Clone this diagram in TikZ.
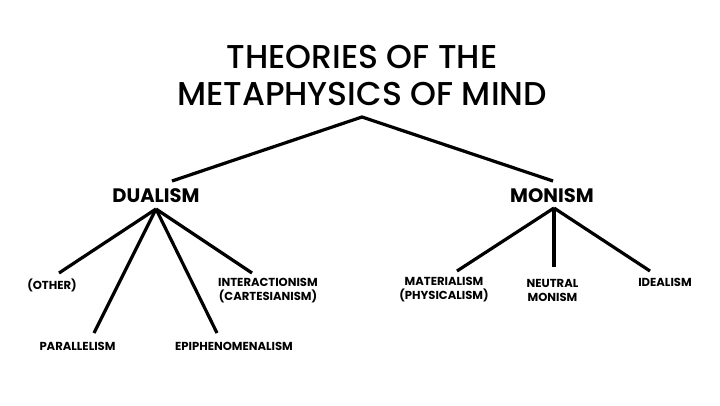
\documentclass[tikz,border=0pt]{standalone}
\usepackage{fontspec}
\setmainfont{Poppins}
\newfontfamily\headfont{Poppins Medium}
\usepackage{tikz}
\usetikzlibrary{positioning}

\begin{document}
\begin{tikzpicture}[
    x=1pt, y=-1pt,
    branch/.style={line width=3.2pt, draw=black},
    heading/.style={align=center, font=\headfont\fontsize{33}{37}\selectfont, inner sep=0pt},
    school/.style={font=\bfseries\fontsize{19.5}{22}\selectfont, inner sep=0pt},
    theory/.style={align=center, font=\bfseries\fontsize{11.6}{14}\selectfont, inner sep=0pt}
]
\useasboundingbox (0,0) rectangle (720,405);
% title and the two schools
\node[heading] (title) at (362,75) {THEORIES OF THE\\METAPHYSICS OF MIND};
\coordinate (apex) at (362,117);
\node[school] (dualism) at (156,195.5) {DUALISM};
\node[school] (monism) at (552,195.5) {MONISM};
\coordinate (dualism-in) at (172,181);
\coordinate (monism-in) at (553,181);
\coordinate (dualism-out) at (156,209);
\coordinate (monism-out) at (554,208);
% dualist theories
\node[theory] (other) at (52,285) {(OTHER)};
\node[theory] (interaction) at (268,290.5) {INTERACTIONISM\\(CARTESIANISM)};
\node[theory] (parallel) at (77.5,346.5) {PARALLELISM};
\node[theory] (epiphenom) at (234,346.5) {EPIPHENOMENALISM};
\coordinate (other-in) at (59,273);
\coordinate (interaction-in) at (252,273);
\coordinate (parallel-in) at (94,333);
\coordinate (epiphenom-in) at (217,333);
% monist theories
\node[theory] (material) at (444,290) {MATERIALISM\\(PHYSICALISM)};
\node[theory] (neutral) at (552.5,290) {NEUTRAL\\MONISM};
\node[theory] (ideal) at (665,282.5) {IDEALISM};
\coordinate (material-in) at (457,271);
\coordinate (neutral-in) at (554,267);
\coordinate (ideal-in) at (650,271);
% branches
\draw[branch, line join=miter] (dualism-in) -- (apex) -- (monism-in);
\foreach \leaf in {other,parallel,epiphenom,interaction}
  \draw[branch] (dualism-out) -- (\leaf-in);
\foreach \leaf in {material,neutral,ideal}
  \draw[branch] (monism-out) -- (\leaf-in);
\end{tikzpicture}
\end{document}
